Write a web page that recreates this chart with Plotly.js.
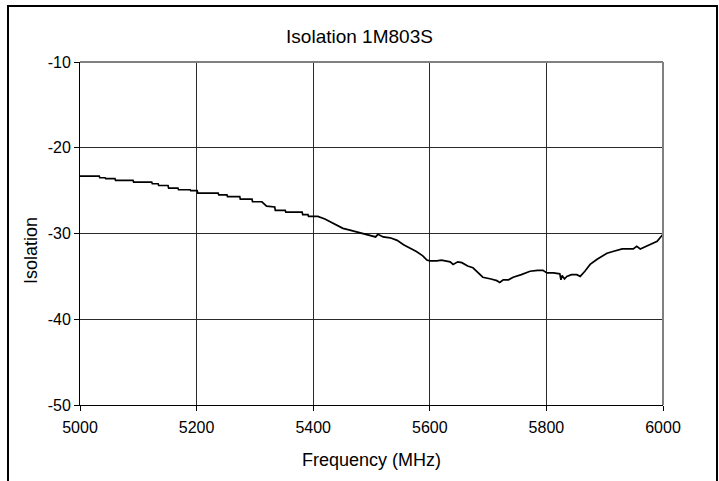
<!DOCTYPE html>
<html>
<head>
<meta charset="utf-8">
<script src="https://cdn.plot.ly/plotly-3.0.1.min.js"></script>
<style>
html,body{margin:0;padding:0;background:#fff;}
#wrap{position:relative;width:719px;height:481px;overflow:hidden;}
#chart{position:absolute;left:0;top:0;width:719px;height:481px;}
#frame{position:absolute;left:7px;top:5px;width:707px;height:490px;border-left:2px solid #000;border-top:2px solid #000;border-right:2px solid #000;pointer-events:none;}
</style>
</head>
<body>
<div id="wrap"><div id="chart"></div><div id="frame"></div></div>
<script>
const chartTitle = "Isolation 1M803S";
const xTitle = "Frequency (MHz)";
const yTitle = "Isolation";
const xTicks = [5000, 5200, 5400, 5600, 5800, 6000];
const yTicks = [-50, -40, -30, -20, -10];

const freq = [5000,5033,5034,5043,5044,5060,5061,5091,5092,5123,5124,5134,5135,5151,5152,5168,5169,5189,5190,5201,5202,5237,5238,5252,5253,5274,5275,5295,5296,5312,5320,5334,5335,5352,5353,5381,5382,5391,5392,5408,5420,5434,5445,5451,5463,5475,5490,5501,5507,5511,5520,5532,5544,5555,5566,5577,5588,5595,5600,5612,5620,5635,5640,5648,5655,5665,5674,5683,5691,5705,5715,5720,5726,5735,5743,5757,5772,5785,5794,5801,5812,5823,5825,5827,5831,5835,5843,5852,5858,5866,5875,5887,5896,5904,5914,5930,5949,5955,5961,5973,5982,5990,5996,6000];
const isolation = [-23.3,-23.3,-23.5,-23.5,-23.6,-23.6,-23.8,-23.8,-24.0,-24.0,-24.2,-24.2,-24.4,-24.4,-24.7,-24.7,-24.9,-24.9,-25.0,-25.0,-25.3,-25.3,-25.5,-25.5,-25.7,-25.7,-26.0,-26.0,-26.3,-26.3,-26.8,-26.9,-27.3,-27.3,-27.5,-27.5,-27.8,-27.8,-28.0,-28.0,-28.3,-28.8,-29.1,-29.4,-29.6,-29.8,-30.1,-30.3,-30.4,-30.1,-30.4,-30.5,-30.8,-31.3,-31.7,-32.1,-32.6,-33.1,-33.2,-33.2,-33.1,-33.3,-33.6,-33.3,-33.4,-33.8,-34.0,-34.6,-35.1,-35.3,-35.5,-35.7,-35.4,-35.4,-35.1,-34.8,-34.4,-34.3,-34.3,-34.6,-34.6,-34.7,-35.4,-34.9,-35.3,-35.0,-34.8,-34.8,-35.0,-34.4,-33.6,-33.0,-32.6,-32.3,-32.1,-31.8,-31.8,-31.5,-31.8,-31.4,-31.1,-30.9,-30.4,-30.1];

const font = {family: "Liberation Sans, Arial, sans-serif", color: "#000"};

const trace = {
  x: freq, y: isolation, type: "scatter", mode: "lines",
  line: {color: "#000", width: 1.7}, hoverinfo: "skip"
};

const layout = {
  width: 719, height: 481,
  margin: {l: 80, r: 56, t: 62, b: 76, pad: 0},
  paper_bgcolor: "#fff", plot_bgcolor: "#fff",
  showlegend: false,
  font: Object.assign({size: 16}, font),
  title: {text: chartTitle, font: Object.assign({size: 19}, font), x: 0.5, xanchor: "center", y: 1 - 36/481, yanchor: "middle", yref: "container"},
  xaxis: {
    range: [5000, 6000], tickvals: xTicks, ticktext: xTicks.map(String),
    showgrid: true, gridcolor: "#2a2a2a", gridwidth: 1,
    showline: true, linecolor: "#000", linewidth: 1,
    ticks: "outside", ticklen: 5, tickcolor: "#000",
    ticklabelstandoff: 3,
    tickfont: Object.assign({size: 16}, font),
    zeroline: false, fixedrange: true
  },
  yaxis: {
    range: [-50, -10], tickvals: yTicks, ticktext: yTicks.map(String),
    showgrid: true, gridcolor: "#2a2a2a", gridwidth: 1,
    showline: true, linecolor: "#000", linewidth: 1,
    ticks: "outside", ticklen: 5, tickcolor: "#000",
    tickfont: Object.assign({size: 16}, font),
    zeroline: false, fixedrange: true
  },
  shapes: [
    {type: "line", xref: "paper", yref: "paper", x0: 0, x1: 1, y0: 1, y1: 1, line: {color: "#808080", width: 2}},
    {type: "line", xref: "paper", yref: "paper", x0: 1, x1: 1, y0: 0, y1: 1, line: {color: "#808080", width: 2}}
  ],
  annotations: [
    {text: yTitle, xref: "paper", yref: "paper", x: (31-80)/583, y: (405-251)/343, xanchor: "center", yanchor: "middle", textangle: -90, showarrow: false, font: Object.assign({size: 18}, font)},
    {text: xTitle, xref: "paper", yref: "paper", x: 0.5, y: (405-460)/343, xanchor: "center", yanchor: "middle", showarrow: false, font: Object.assign({size: 18}, font)}
  ]
};

Plotly.newPlot("chart", [trace], layout, {staticPlot: true, displayModeBar: false});
</script>
</body>
</html>
